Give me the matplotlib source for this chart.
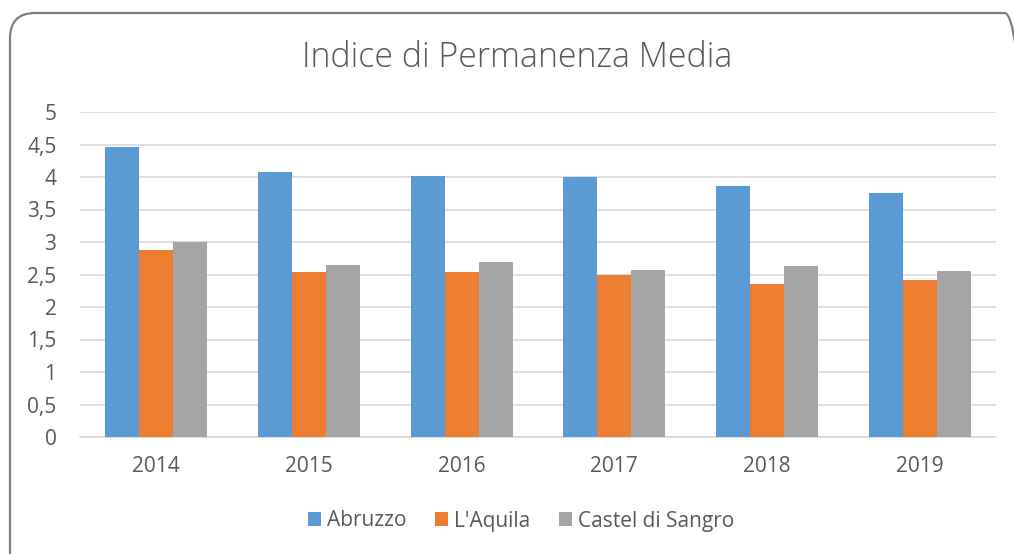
import matplotlib
matplotlib.use("Agg")
import matplotlib.pyplot as plt
from matplotlib.patches import FancyBboxPatch
import numpy as np

years = ["2014", "2015", "2016", "2017", "2018", "2019"]
abruzzo = [4.46, 4.07, 4.02, 4.00, 3.86, 3.76]
laquila = [2.87, 2.54, 2.54, 2.49, 2.36, 2.42]
castel = [3.00, 2.65, 2.70, 2.57, 2.63, 2.56]
series_names = ["Abruzzo", "L'Aquila", "Castel di Sangro"]
colors = ["#5B9BD5", "#ED7D31", "#A5A5A5"]
yticks = [0, 0.5, 1, 1.5, 2, 2.5, 3, 3.5, 4, 4.5, 5]

plt.rcParams['font.family'] = ['Open Sans', 'DejaVu Sans']
txt = "#595959"

W, H = 1014, 554
fig = plt.figure(figsize=(W / 100, H / 100), dpi=100)

# rounded border
border = FancyBboxPatch((10 / W, -30 / H), (1030 - 10) / W, (H - 13 + 30) / H,
                        boxstyle="round,pad=0,rounding_size=0.025",
                        transform=fig.transFigure, fill=False,
                        edgecolor="#7F7F7F", linewidth=1.6, clip_on=False,
                        mutation_aspect=W / H)
fig.patches.append(border)

ax = fig.add_axes([80 / W, 1 - 437 / H, (996 - 80) / W, (437 - 112) / H])
x = np.arange(len(years))
bw = 1 / 4.5
for i, (vals, name, c) in enumerate(zip([abruzzo, laquila, castel], series_names, colors)):
    ax.bar(x + (i - 1) * bw, vals, width=bw, color=c, label=name, zorder=3)

ax.set_xlim(-0.5, len(years) - 0.5)
ax.set_ylim(0, 5)
ax.set_yticks(yticks)
ax.set_yticklabels([("%g" % v).replace(".", ",") for v in yticks])
ax.set_xticks(x)
ax.set_xticklabels(years)
ax.grid(axis="y", color="#D9D9D9", linewidth=1.2, zorder=0)
for s in ["top", "right", "left"]:
    ax.spines[s].set_visible(False)
ax.spines["bottom"].set_color("#D9D9D9")
ax.spines["bottom"].set_linewidth(1.2)
ax.tick_params(axis="both", length=0, labelsize=15, colors=txt)
ax.tick_params(axis="y", pad=17)
ax.tick_params(axis="x", pad=14)

fig.text(517 / W, 1 - 58 / H, "Indice di Permanenza Media", ha="center", va="center",
         fontsize=24.4, color=txt, fontweight="light")

leg = fig.legend(loc="center", bbox_to_anchor=(521 / W, 1 - 521 / H), ncol=3,
                 frameon=False, fontsize=15, handlelength=0.63, handleheight=0.63,
                 handletextpad=0.3, columnspacing=1.35)
for t in leg.get_texts():
    t.set_color(txt)

fig.savefig("out.png", dpi=100)
